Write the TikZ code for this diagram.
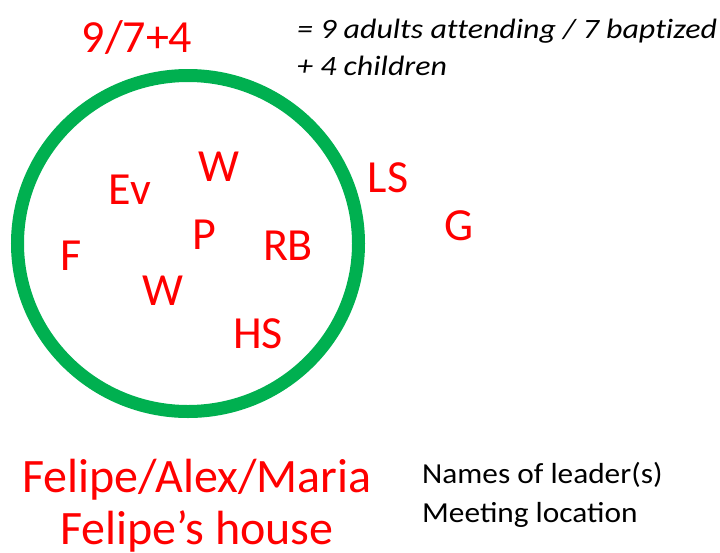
\documentclass[tikz,border=0pt]{standalone}
\usepackage{fontspec}
\setmainfont{Carlito}
\definecolor{offgreen}{HTML}{00B050}
\definecolor{offred}{HTML}{FF0000}
\begin{document}
\begin{tikzpicture}[x=1pt,y=-1pt,
  lbl/.style={text=offred,font=\fontsize{46}{46}\selectfont,anchor=base,inner sep=0pt},
  big/.style={lbl,font=\fontsize{48}{48}\selectfont},
  note/.style={text=black,font=\fontsize{28}{28}\selectfont\itshape\addfontfeatures{Ligatures=NoCommon},anchor=base west,inner sep=0pt},
  key/.style={text=black,font=\fontsize{29}{29}\selectfont,anchor=base west,inner sep=0pt}]
\useasboundingbox (0,0) rectangle (720,552);
\draw[offgreen,line width=13pt] (188,243.5) ellipse [x radius=170.5, y radius=168];
\node[lbl] (count) at (137,52) {9/7+4};
\node[note] (n1) at (297,38) {\scalebox{1.14}[1]{= 9 adults attending / 7 baptized}};
\node[note] (n2) at (297,75) {\scalebox{1.14}[1]{+ 4 children}};
\node[lbl] (w1) at (219,181) {W};
\node[lbl] (ev) at (130,204) {Ev};
\node[lbl] (p) at (204,249) {P};
\node[lbl] (rb) at (288,260) {RB};
\node[lbl] (f) at (71,270) {F};
\node[lbl] (w2) at (163,305) {W};
\node[lbl] (hs) at (258,348) {HS};
\node[lbl] (ls) at (388,192) {LS};
\node[lbl] (g) at (459,240) {G};
\node[big] (lead) at (197,492) {Felipe/Alex/Maria};
\node[big] (loc) at (197,544) {Felipe’s house};
\node[key] (k1) at (422,483) {\scalebox{1.08}[1]{Names of leader(s)}};
\node[key] (k2) at (422,522) {\scalebox{1.08}[1]{Meeting location}};
\end{tikzpicture}
\end{document}
